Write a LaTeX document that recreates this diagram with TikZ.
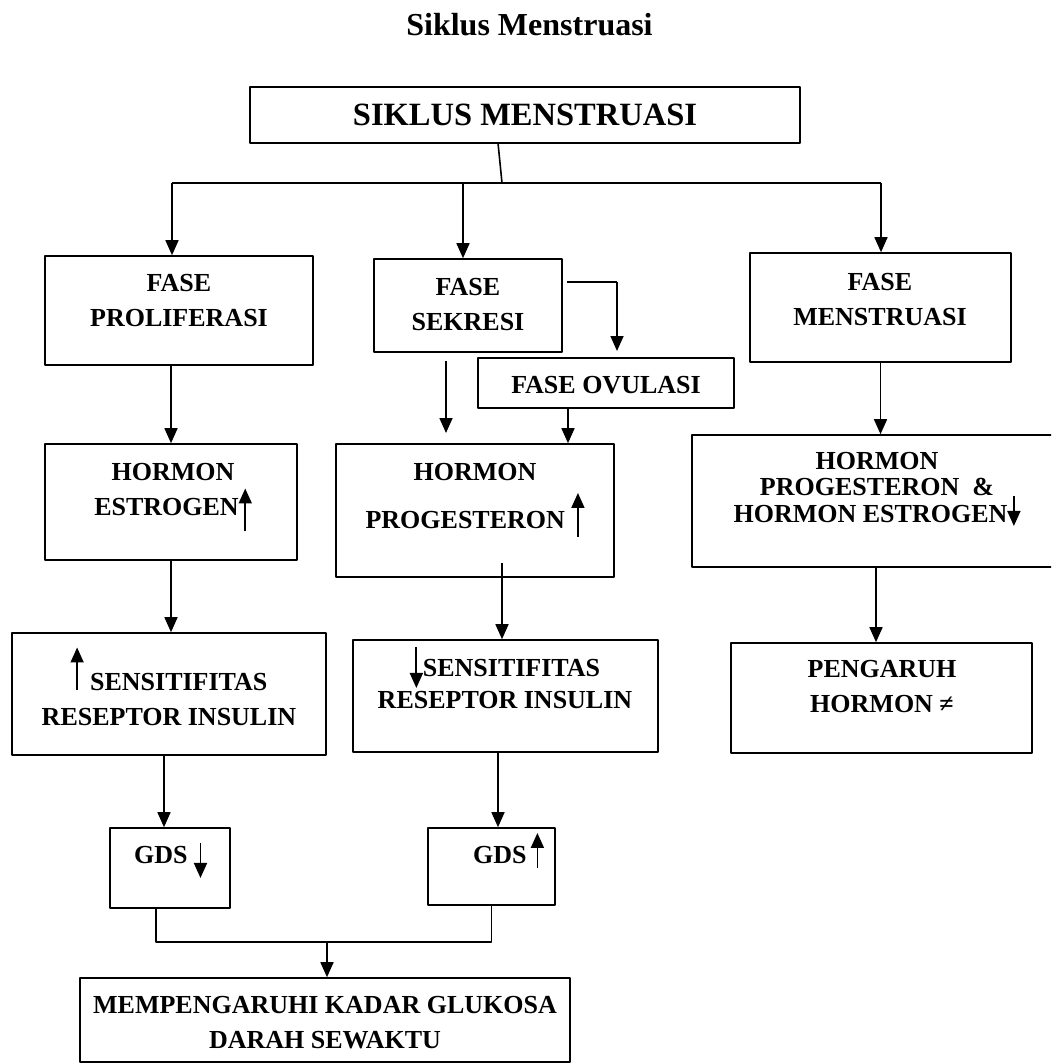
\documentclass[tikz,border=0pt]{standalone}
\usepackage{fontspec}
\setmainfont{Liberation Serif}
\usetikzlibrary{arrows.meta}

\tikzset{
  kotak/.style={draw, line width=1.6pt, inner sep=0pt},
  teks/.style={font=\fontsize{26pt}{35pt}\selectfont\bfseries, align=center, inner sep=0pt},
  garis/.style={line width=1.6pt},
  panah/.style={line width=1.6pt, -{Triangle[length=15pt,width=13pt]}},
  glyf/.style={line width=1.8pt, -{Triangle[length=15pt,width=13pt]}}
}
% panah kecil di dalam teks (ujung di argumen kedua)
\newcommand{\naik}[2]{\smash{\tikz[baseline=0pt]\draw[glyf] (0pt,#1pt) -- (0pt,#2pt);}}
\newcommand{\turun}[2]{\smash{\tikz[baseline=0pt]\draw[glyf] (0pt,#1pt) -- (0pt,#2pt);}}

\begin{document}
\begin{tikzpicture}[x=1pt, y=-1pt, line join=round]

  \clip (0,0) rectangle (1051,1064);

  \node[font=\fontsize{32pt}{38pt}\selectfont\bfseries, inner sep=0pt] (kepala) at (529.5,25) {Siklus Menstruasi};

  % kotak-kotak
  \node[kotak, minimum width=550pt, minimum height=56pt,
        font=\fontsize{32.5pt}{38pt}\selectfont\bfseries] (judul) at (525,115) {SIKLUS MENSTRUASI};
  \node[kotak, minimum width=268pt, minimum height=109pt] (prolif) at (179,310.5) {};
  \node[kotak, minimum width=188pt, minimum height=93pt] (sekresi) at (468,305.5) {};
  \node[kotak, minimum width=261pt, minimum height=109pt] (menstr) at (880.5,307.5) {};
  \node[kotak, minimum width=256pt, minimum height=50pt] (ovulasi) at (606,383) {};
  \node[kotak, minimum width=252pt, minimum height=116pt] (estro) at (171,502) {};
  \node[kotak, minimum width=278pt, minimum height=133pt] (proges) at (475,510.5) {};
  \node[kotak, minimum width=370pt, minimum height=132pt] (hormon3) at (877,501) {};
  \node[kotak, minimum width=314pt, minimum height=122pt] (sens1) at (169,694) {};
  \node[kotak, minimum width=305pt, minimum height=112pt] (sens2) at (505.5,696) {};
  \node[kotak, minimum width=301pt, minimum height=110pt] (pengaruh) at (881.5,698) {};
  \node[kotak, minimum width=120pt, minimum height=80pt] (gds1) at (170,868) {};
  \node[kotak, minimum width=127pt, minimum height=77pt] (gds2) at (491.5,866.5) {};
  \node[kotak, minimum width=490pt, minimum height=84pt] (akhir) at (325,1020) {};

  % isi kotak
  \node[teks] (tprolif) at (179,300.5) {FASE\\PROLIFERASI};
  \node[teks] (tsekresi) at (468,304.5) {FASE\\SEKRESI};
  \node[teks] (tmenstr) at (880,299.5) {FASE\\MENSTRUASI};
  \node[teks] (tovulasi) at (606,385) {FASE OVULASI};
  \node[teks] (testro) at (173,489.5) {HORMON\\ESTROGEN\naik{-16}{27}};
  \node[teks, font=\fontsize{26pt}{48pt}\selectfont\bfseries] (tproges) at (475,496) {HORMON\\PROGESTERON \naik{-8.5}{35.5}};
  \node[teks, font=\fontsize{26pt}{26.5pt}\selectfont\bfseries] (thormon3) at (877,487.5)
       {HORMON\\PROGESTERON~ \&\\HORMON ESTROGEN\turun{26.5}{-3.5}};
  \node[teks] (tsens1) at (169,699.5) {\naik{0}{43} SENSITIFITAS\\RESEPTOR INSULIN};
  \node[teks, font=\fontsize{26pt}{32pt}\selectfont\bfseries] (tsens2) at (505,684) {\turun{29.5}{-11.5}SENSITIFITAS\\RESEPTOR INSULIN};
  \node[teks] (tpengaruh) at (882,686.5) {PENGARUH\\HORMON ≠};
  \node[teks] (tgds1) at (170.5,855.5) {GDS \turun{21}{-14}};
  \node[teks] (tgds2) at (508.5,855.5) {GDS\,\naik{-4}{31}};
  \node[teks] (takhir) at (325,1022.5) {MEMPENGARUHI KADAR GLUKOSA\\DARAH SEWAKTU};

  % titik bantu
  \coordinate (jbawah) at (498,143);
  \coordinate (hub) at (502,183);
  \coordinate (hkiri) at (172,183);
  \coordinate (htengah) at (463,183);
  \coordinate (hkanan) at (881,183);
  \coordinate (s1) at (567,282);
  \coordinate (s2) at (617,282);
  \coordinate (s3) at (617,351);
  \coordinate (p1) at (446,361);
  \coordinate (p2) at (446,433);
  \coordinate (p3) at (568,408);
  \coordinate (p4) at (502,563);
  \coordinate (p5) at (498,752);
  \coordinate (r1) at (876,567);
  \coordinate (kgds) at (164,755);
  \coordinate (gabkiri) at (156,942);
  \coordinate (gabtengah) at (327,942);

  % penghubung
  \draw[garis] (jbawah) -- (hub);
  \draw[garis] (hkiri) -- (hkanan);
  \draw[panah] (hkiri) -- (hkiri |- prolif.north);
  \draw[panah] (htengah) -- (htengah |- sekresi.north);
  \draw[panah] (hkanan) -- (hkanan |- menstr.north);

  \draw[garis] (s1) -- (s2);
  \draw[panah] (s2) -- (s3);
  \draw[panah] (p1) -- (p2);
  \draw[panah] (p3) -- (p3 |- proges.north);
  \draw[panah] (p4) -- (p4 |- sens2.north);
  \draw[panah] (p5) -- (p5 |- gds2.north);

  \draw[panah] (prolif.south -| estro.north) -- (estro.north);
  \draw[panah] (estro.south) -- (estro.south |- sens1.north);
  \draw[panah] (kgds) -- (kgds |- gds1.north);

  \draw[panah] (menstr.south) -- (menstr.south |- hormon3.north);
  \draw[panah] (r1) -- (r1 |- pengaruh.north);

  \draw[garis] (gabkiri |- gds1.south) -- (gabkiri) -- (gabkiri -| gds2.south) -- (gds2.south);
  \draw[panah] (gabtengah) -- (gabtengah |- akhir.north);

\end{tikzpicture}
\end{document}
